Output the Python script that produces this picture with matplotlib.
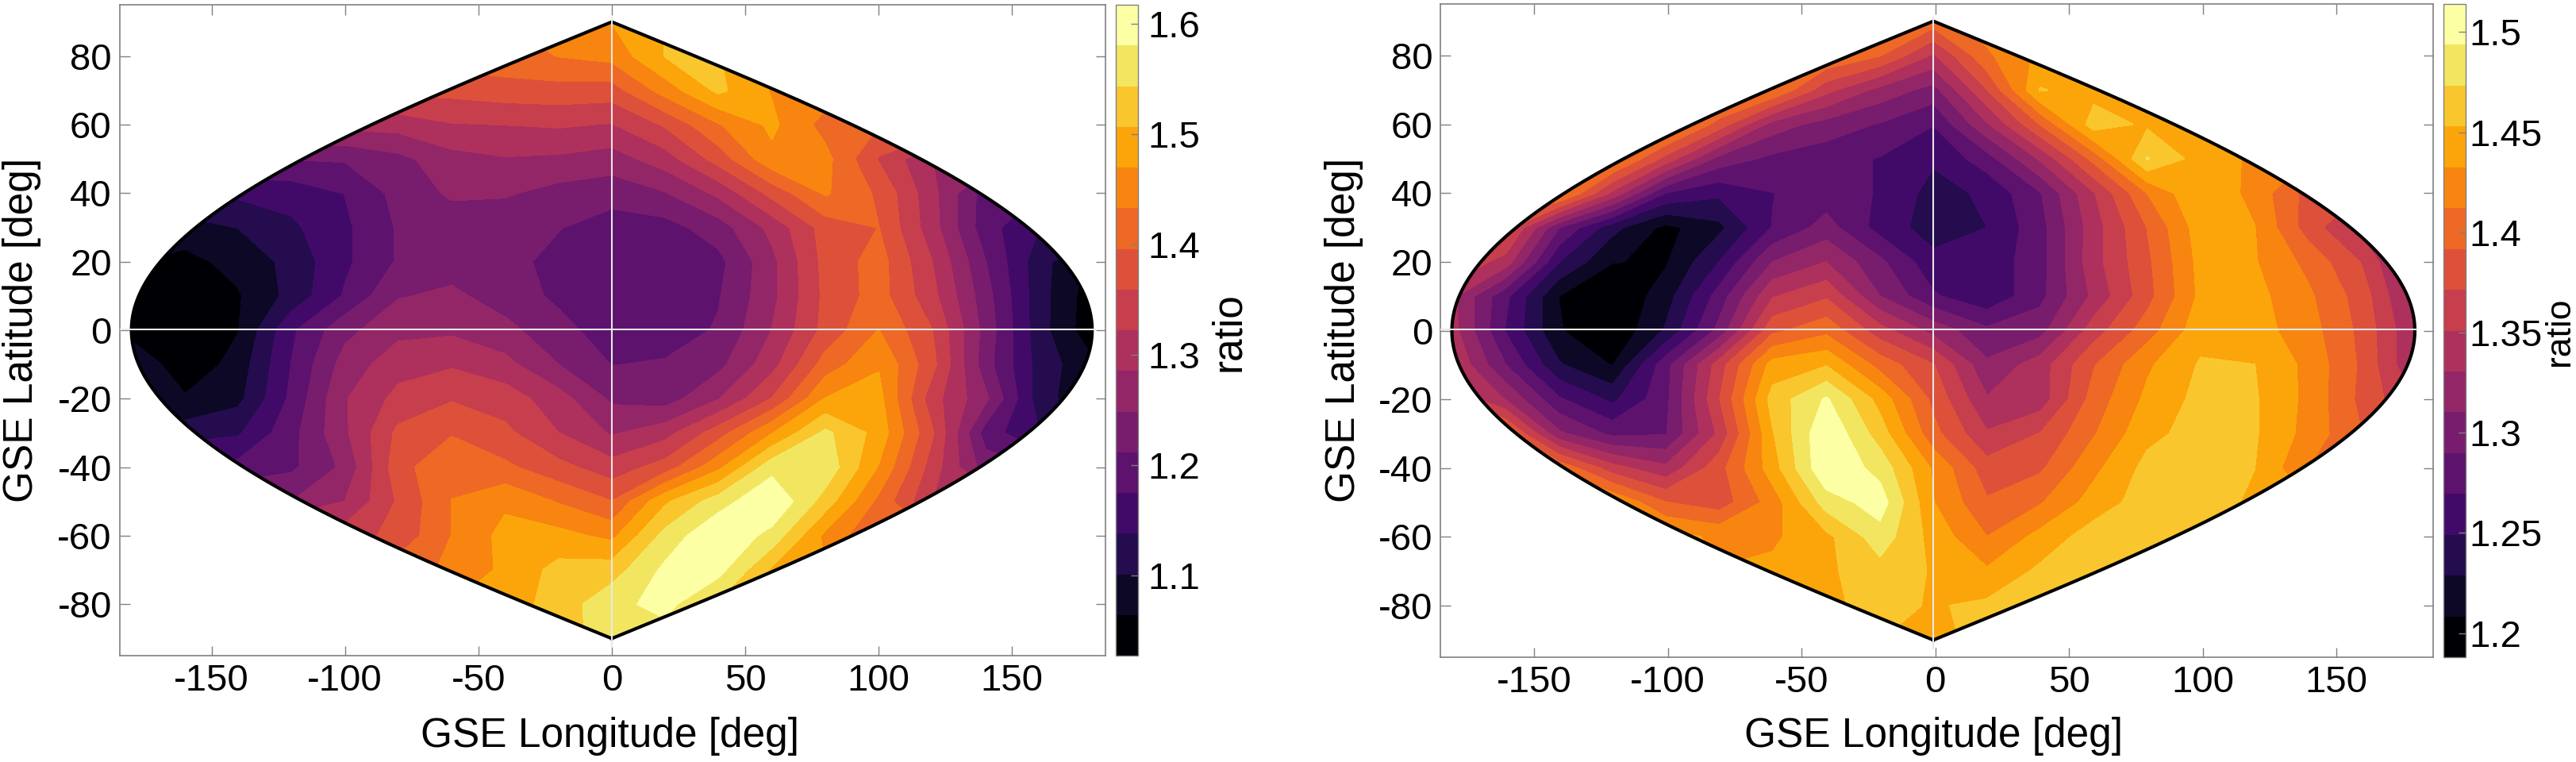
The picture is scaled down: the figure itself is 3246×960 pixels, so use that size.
import numpy as np
import matplotlib
matplotlib.use('Agg')
import matplotlib.pyplot as plt
from matplotlib.patches import Polygon

plt.rcParams['font.family'] = ['Liberation Sans', 'DejaVu Sans']
plt.rcParams['axes.unicode_minus'] = False

# grid of the map, plot coordinates in deg
map_x = [-180, -160, -140, -120, -100, -80, -60, -40, -20, 0, 20, 40, 60, 80, 100, 120, 140, 160, 180]
map_y = [90, 80, 70, 60, 50, 40, 30, 20, 10, 0, -10, -20, -30, -40, -50, -60, -70, -80, -90]

# ratio, one row per latitude (cells outside the outline only carry the contours to the edge)
ratio_left = [
    [1.433] * 8 + [1.451, 1.470, 1.507] + [1.507] * 8,
    [1.414] * 7 + [1.422, 1.433, 1.444, 1.507, 1.507] + [1.488] * 7,
    [1.359] * 5 + [1.367, 1.370, 1.378, 1.381, 1.378, 1.448, 1.514, 1.466] + [1.451] * 6,
    [1.296] * 5 + [1.300, 1.319, 1.322, 1.326, 1.319, 1.363, 1.429, 1.477, 1.418] + [1.396] * 5,
    [1.212] * 4 + [1.215, 1.237, 1.271, 1.282, 1.278, 1.267, 1.304, 1.374, 1.459, 1.444, 1.355] + [1.285] * 4,
    [1.145, 1.145, 1.145, 1.152, 1.175, 1.223, 1.254, 1.252, 1.234, 1.226, 1.245, 1.293, 1.370, 1.437, 1.389, 1.296, 1.193, 1.175, 1.175],
    [1.082, 1.082, 1.101, 1.130, 1.167, 1.215, 1.226, 1.223, 1.213, 1.193, 1.197, 1.230, 1.296, 1.374, 1.396, 1.300, 1.189, 1.138, 1.138],
    [1.064, 1.053, 1.075, 1.112, 1.167, 1.215, 1.230, 1.223, 1.200, 1.175, 1.175, 1.200, 1.274, 1.370, 1.411, 1.322, 1.212, 1.116, 1.053],
    [1.045, 1.034, 1.060, 1.112, 1.178, 1.245, 1.256, 1.230, 1.204, 1.182, 1.182, 1.208, 1.274, 1.367, 1.411, 1.333, 1.226, 1.116, 1.042],
    [1.045, 1.031, 1.062, 1.167, 1.237, 1.274, 1.278, 1.259, 1.223, 1.193, 1.193, 1.215, 1.285, 1.370, 1.433, 1.359, 1.234, 1.116, 1.038],
    [1.101, 1.034, 1.079, 1.175, 1.263, 1.307, 1.317, 1.296, 1.248, 1.210, 1.215, 1.237, 1.307, 1.411, 1.466, 1.370, 1.226, 1.123, 1.071],
    [1.068, 1.068, 1.090, 1.182, 1.282, 1.333, 1.355, 1.341, 1.300, 1.241, 1.230, 1.282, 1.359, 1.470, 1.481, 1.337, 1.256, 1.119, 1.064],
    [1.119, 1.119, 1.132, 1.199, 1.278, 1.367, 1.392, 1.367, 1.322, 1.280, 1.307, 1.378, 1.466, 1.551, 1.492, 1.363, 1.193, 1.138, 1.138],
    [1.186, 1.186, 1.186, 1.204, 1.256, 1.381, 1.427, 1.403, 1.370, 1.337, 1.374, 1.459, 1.566, 1.569, 1.466, 1.341, 1.230, 1.212, 1.212],
    [1.248] * 4 + [1.285, 1.363, 1.433, 1.462, 1.429, 1.396, 1.499, 1.562, 1.615, 1.525, 1.422] + [1.322] * 4,
    [1.341] * 5 + [1.370, 1.433, 1.481, 1.481, 1.459, 1.555, 1.615, 1.566, 1.459] + [1.396] * 5,
    [1.396] * 5 + [1.414, 1.440, 1.477, 1.518, 1.525, 1.588, 1.592, 1.499] + [1.470] * 6,
    [1.470] * 7 + [1.488, 1.521, 1.569, 1.592, 1.536] + [1.507] * 7,
    [1.507] * 8 + [1.525, 1.562, 1.562] + [1.544] * 8,
]

ratio_right = [
    [1.412] * 9 + [1.402, 1.423] + [1.433] * 8,
    [1.412] * 8 + [1.392, 1.347, 1.408, 1.437] + [1.433] * 7,
    [1.433] * 6 + [1.412, 1.357, 1.323, 1.302, 1.370, 1.454, 1.445] + [1.433] * 6,
    [1.433] * 5 + [1.382, 1.321, 1.301, 1.288, 1.270, 1.327, 1.392, 1.463, 1.449] + [1.433] * 5,
    [1.433] * 3 + [1.423, 1.363, 1.302, 1.284, 1.278, 1.268, 1.252, 1.280, 1.333, 1.398, 1.474, 1.443, 1.429] + [1.412] * 3,
    [1.412, 1.412, 1.423, 1.345, 1.268, 1.253, 1.269, 1.278, 1.268, 1.241, 1.253, 1.288, 1.349, 1.412, 1.452, 1.425, 1.384, 1.372, 1.372],
    [1.372, 1.382, 1.290, 1.235, 1.202, 1.223, 1.270, 1.298, 1.261, 1.239, 1.249, 1.282, 1.341, 1.392, 1.443, 1.433, 1.382, 1.343, 1.331],
    [1.372, 1.341, 1.249, 1.209, 1.206, 1.249, 1.310, 1.330, 1.294, 1.255, 1.257, 1.281, 1.343, 1.387, 1.439, 1.434, 1.406, 1.370, 1.310],
    [1.335, 1.274, 1.208, 1.189, 1.219, 1.278, 1.349, 1.368, 1.310, 1.272, 1.253, 1.284, 1.335, 1.384, 1.437, 1.439, 1.416, 1.382, 1.321],
    [1.339, 1.268, 1.210, 1.189, 1.231, 1.296, 1.386, 1.406, 1.359, 1.323, 1.294, 1.302, 1.361, 1.402, 1.445, 1.441, 1.421, 1.386, 1.331],
    [1.351, 1.290, 1.231, 1.207, 1.282, 1.361, 1.441, 1.451, 1.404, 1.372, 1.314, 1.341, 1.390, 1.429, 1.455, 1.453, 1.427, 1.388, 1.331],
    [1.372, 1.329, 1.272, 1.244, 1.284, 1.370, 1.461, 1.496, 1.445, 1.386, 1.332, 1.339, 1.400, 1.437, 1.459, 1.455, 1.427, 1.386, 1.351],
    [1.412, 1.402, 1.314, 1.284, 1.288, 1.355, 1.451, 1.512, 1.463, 1.398, 1.353, 1.372, 1.410, 1.447, 1.461, 1.455, 1.425, 1.392, 1.372],
    [1.433, 1.433, 1.408, 1.359, 1.335, 1.384, 1.443, 1.512, 1.486, 1.429, 1.380, 1.388, 1.427, 1.459, 1.463, 1.453] + [1.412] * 3,
    [1.433] * 4 + [1.392, 1.380, 1.421, 1.482, 1.504, 1.433, 1.394, 1.410, 1.441, 1.463, 1.463, 1.449] + [1.433] * 3,
    [1.439] * 5 + [1.429, 1.429, 1.447, 1.484, 1.445, 1.412, 1.439, 1.463, 1.463] + [1.453] * 5,
    [1.433] * 6 + [1.437, 1.449, 1.465, 1.451, 1.435, 1.457, 1.463, 1.459] + [1.453] * 5,
    [1.449] * 8 + [1.459, 1.451, 1.457, 1.461] + [1.459] * 7,
    [1.453] * 9 + [1.447] + [1.459] * 9,
]

x_ticks = [-150, -100, -50, 0, 50, 100, 150]
y_ticks = [-80, -60, -40, -20, 0, 20, 40, 60, 80]
cbar_ticks_left = [1.1, 1.2, 1.3, 1.4, 1.5, 1.6]
cbar_labels_left = ['1.1', '1.2', '1.3', '1.4', '1.5', '1.6']
cbar_ticks_right = [1.2, 1.25, 1.3, 1.35, 1.4, 1.45, 1.5]
cbar_labels_right = ['1.2', '1.25', '1.3', '1.35', '1.4', '1.45', '1.5']

W, H = 3246, 960
GRAY = '#808080'
LINE = '#e8e8e8'


def px_axes(fig, left, right, top, bottom):
    return fig.add_axes([left / W, 1 - bottom / H, (right - left) / W, (bottom - top) / H])


def draw_map(fig, ratio, box, cbox, xlim, ylim, vlim, ticks, labels, center, cpad):
    ax = px_axes(fig, *box)
    cax = px_axes(fig, *cbox)

    levels = np.linspace(vlim[0], vlim[1], 17)
    colors = plt.get_cmap('inferno')(np.linspace(0, 1, 16))
    X, Y = np.meshgrid(np.array(map_x) + center, map_y)
    cs = ax.contourf(X, Y, np.array(ratio), levels=levels, colors=colors)
    cs.set_edgecolor('face')

    # sinusoidal outline of the sky map
    lat = np.linspace(-90, 90, 361)
    edge = 180 * np.cos(np.radians(lat))
    outline = np.column_stack([np.r_[center + edge, center - edge[::-1]], np.r_[lat, lat[::-1]]])
    clip = Polygon(outline, closed=True, transform=ax.transData, fc='none', ec='none')
    ax.add_patch(clip)
    cs.set_clip_path(clip)
    ax.plot(outline[:, 0], outline[:, 1], color='black', lw=3.0, zorder=4, solid_joinstyle='miter')
    ax.plot([xlim[0], center + 181], [0.3, 0.3], color=LINE, lw=1.5, zorder=5)
    ax.plot([center, center], [91, -92.5], color=LINE, lw=1.5, zorder=5)

    ax.set_xlim(*xlim)
    ax.set_ylim(*ylim)
    ax.set_xticks(x_ticks)
    ax.set_yticks(y_ticks)
    ax.tick_params(direction='in', length=9, width=1.0, color=GRAY, top=True, right=True,
                   labelsize=34, pad=7)
    for s in ax.spines.values():
        s.set_color(GRAY)
        s.set_linewidth(1.2)

    cb = fig.colorbar(cs, cax=cax, ticks=ticks)
    cb.set_ticklabels(labels)
    cax.tick_params(direction='in', length=6.5, width=1.0, color=GRAY, labelsize=34, pad=cpad)
    cb.outline.set_edgecolor(GRAY)
    cb.outline.set_linewidth(1.0)


fig = plt.figure(figsize=(W / 100, H / 100), dpi=100)

draw_map(fig, ratio_left, (150.5, 1393, 6, 826), (1406, 1434, 6, 826), (-184.5, 185), (-95, 95),
         (1.027, 1.617), cbar_ticks_left, cbar_labels_left, 0.0, 9)
draw_map(fig, ratio_right, (1815, 3065.5, 5, 828), (3078.5, 3107, 5, 828), (-185, 186), (-95, 95),
         (1.188, 1.514), cbar_ticks_right, cbar_labels_right, -0.7, 3)

for x, y, txt, rot, size in [(768, 927, 'GSE Longitude [deg]', 0, 37), (28, 416, 'GSE Latitude [deg]', 90, 37),
                             (1549, 418, 'ratio', 90, 37), (2437, 927, 'GSE Longitude [deg]', 0, 37),
                             (1694, 416, 'GSE Latitude [deg]', 90, 37), (3226, 418, 'ratio', 90, 32)]:
    fig.text(x / W, 1 - y / H, txt, fontsize=size, rotation=rot, ha='center', va='center')

fig.savefig('out.png', dpi=100)
